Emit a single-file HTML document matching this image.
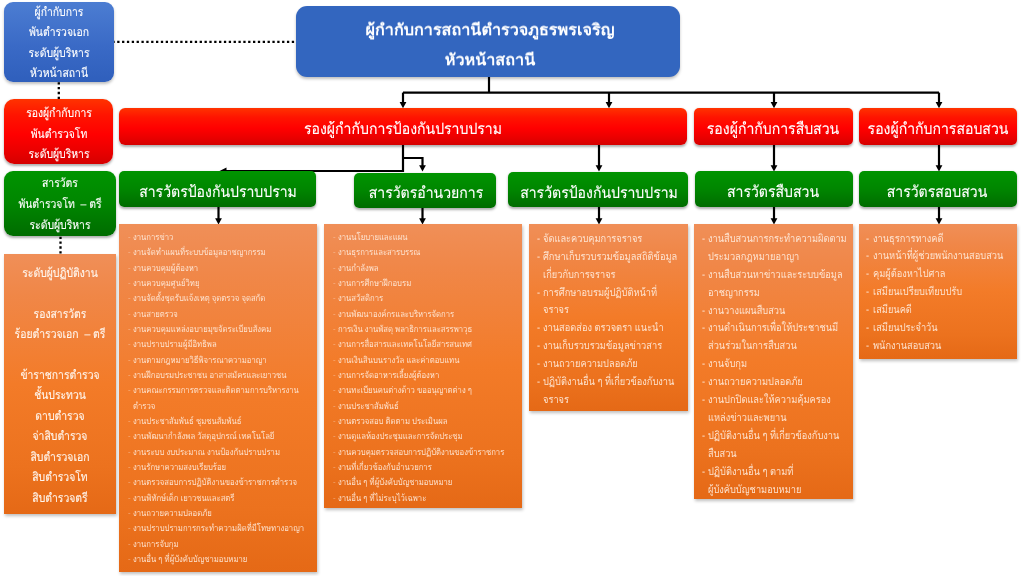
<!DOCTYPE html>
<html><head><meta charset="utf-8"><title>org chart</title><style>
html,body{margin:0;padding:0;background:#fff;}
body{width:1024px;height:576px;position:relative;overflow:hidden;font-family:"Liberation Sans",sans-serif;text-rendering:geometricPrecision;}
.b{position:absolute;box-sizing:border-box;overflow:hidden;}
.t{position:absolute;white-space:nowrap;will-change:transform;-webkit-text-stroke:0.1px currentColor;}
.blueA{background:linear-gradient(#4C7DD2,#3A6AC6 55%,#2F5FBC);box-shadow:0 2px 3px rgba(0,0,0,.25);}
.blueB{background:#3366BF;box-shadow:0 2px 3px rgba(0,0,0,.25);}
.red{background:linear-gradient(#FF3300,#FF1400 25%,#FF0000 55%,#EA0000 80%,#D50000);box-shadow:0 1.5px 2.5px rgba(0,0,0,.32);}
.green{background:linear-gradient(#009400,#008600 50%,#006C00);box-shadow:0 1.5px 2.5px rgba(0,0,0,.32);}
.orange{background:linear-gradient(#F08F58,#F08748 15%,#F37B28 50%,#EC721E 82%,#E56916);box-shadow:1px 2px 3px rgba(0,0,0,.25);}
svg{position:absolute;left:0;top:0;}
</style></head><body>
<svg width="1024" height="576" viewBox="0 0 1024 576"><g stroke="#000" stroke-width="2.2" fill="none"><path d="M489 76V92.6"/><path d="M403 92.6H939"/><path d="M403 92.6V103"/><path d="M609 92.6V103"/><path d="M774 92.6V103"/><path d="M939 92.6V103"/><path d="M403 144V171H224"/><path d="M403 158H422.5V166"/><path d="M599 144V166"/><path d="M774 144V166"/><path d="M939 144V166"/><path d="M218.5 206V219"/><path d="M422.5 206V219"/><path d="M599 206V219"/><path d="M774 206V219"/><path d="M939 206V219"/></g><g fill="#000"><path d="M399.6 102.1L406.4 102.1L403 108.3Z"/><path d="M605.6 102.1L612.4 102.1L609 108.3Z"/><path d="M770.6 102.1L777.4 102.1L774 108.3Z"/><path d="M935.6 102.1L942.4 102.1L939 108.3Z"/><path d="M419.1 165.3L425.9 165.3L422.5 171.5Z"/><path d="M595.6 165.3L602.4 165.3L599 171.5Z"/><path d="M770.6 165.3L777.4 165.3L774 171.5Z"/><path d="M935.6 165.3L942.4 165.3L939 171.5Z"/><path d="M215.1 218.3L221.9 218.3L218.5 224.5Z"/><path d="M419.1 218.3L425.9 218.3L422.5 224.5Z"/><path d="M595.6 218.3L602.4 218.3L599 224.5Z"/><path d="M770.6 218.3L777.4 218.3L774 224.5Z"/><path d="M935.6 218.3L942.4 218.3L939 224.5Z"/><path d="M219.5 171L226.5 167.5L226.5 174.5Z"/></g><g stroke="#000" stroke-width="2.3" stroke-linecap="square" stroke-dasharray="0 4.85" fill="none"><path d="M113.5 41.9H296"/><path d="M58.8 83.3V99"/><path d="M60.5 237.8V254"/></g></svg>
<div class="b blueA" style="left:4px;top:2px;width:109.50px;height:79.50px;border-radius:9px">
<div class="t" style="left:-95.50px;width:300px;text-align:center;top:4.10px;font-size:10.4px;line-height:15.6px;color:#fff;transform-origin:150px 11.40px;transform:scale(1.0,1.18)">ผู้กำกับการ</div>
<div class="t" style="left:-95.50px;width:300px;text-align:center;top:24.40px;font-size:10.4px;line-height:15.6px;color:#fff;transform-origin:150px 11.40px;transform:scale(1.0,1.18)">พันตำรวจเอก</div>
<div class="t" style="left:-95.50px;width:300px;text-align:center;top:44.70px;font-size:10.4px;line-height:15.6px;color:#fff;transform-origin:150px 11.40px;transform:scale(1.0,1.18)">ระดับผู้บริหาร</div>
<div class="t" style="left:-95.50px;width:300px;text-align:center;top:65.00px;font-size:10.4px;line-height:15.6px;color:#fff;transform-origin:150px 11.40px;transform:scale(1.0,1.18)">หัวหน้าสถานี</div>
</div>
<div class="b blueB" style="left:296px;top:6px;width:383.50px;height:71.00px;border-radius:11px">
<div class="t" style="left:44.00px;width:300px;text-align:center;top:11.74px;font-size:16.2px;line-height:24.3px;color:#fff;font-weight:bold;transform-origin:150px 17.76px;transform:scale(1.0,0.97);-webkit-text-stroke-width:0">ผู้กำกับการสถานีตำรวจภูธรพรเจริญ</div>
<div class="t" style="left:44.00px;width:300px;text-align:center;top:41.84px;font-size:16.2px;line-height:24.3px;color:#fff;font-weight:bold;transform-origin:150px 17.76px;transform:scale(1.0,0.97);-webkit-text-stroke-width:0">หัวหน้าสถานี</div>
</div>
<div class="b red" style="left:4.3px;top:99.3px;width:109.00px;height:65.20px;border-radius:10px">
<div class="t" style="left:-95.60px;width:300px;text-align:center;top:7.90px;font-size:10.4px;line-height:15.6px;color:#fff;transform-origin:150px 11.40px;transform:scale(1.0,1.18)">รองผู้กำกับการ</div>
<div class="t" style="left:-95.60px;width:300px;text-align:center;top:28.40px;font-size:10.4px;line-height:15.6px;color:#fff;transform-origin:150px 11.40px;transform:scale(1.0,1.18)">พันตำรวจโท</div>
<div class="t" style="left:-95.60px;width:300px;text-align:center;top:48.90px;font-size:10.4px;line-height:15.6px;color:#fff;transform-origin:150px 11.40px;transform:scale(1.0,1.18)">ระดับผู้บริหาร</div>
</div>
<div class="b red" style="left:119.4px;top:108.2px;width:567.60px;height:36.70px;border-radius:6px">
<div class="t" style="left:133.60px;width:300px;text-align:center;top:10.56px;font-size:13.9px;line-height:20.85px;color:#fff;transform-origin:150px 15.24px;transform:scale(1.011,1.12)">รองผู้กำกับการป้องกันปราบปราม</div>
</div>
<div class="b red" style="left:694px;top:108.2px;width:158.50px;height:36.70px;border-radius:5px">
<div class="t" style="left:-70.70px;width:300px;text-align:center;top:10.66px;font-size:13.9px;line-height:20.85px;color:#fff;transform-origin:150px 15.24px;transform:scale(1.011,1.12)">รองผู้กำกับการสืบสวน</div>
</div>
<div class="b red" style="left:858.8px;top:108px;width:158.20px;height:36.80px;border-radius:5px">
<div class="t" style="left:-70.90px;width:300px;text-align:center;top:10.86px;font-size:13.9px;line-height:20.85px;color:#fff;transform-origin:150px 15.24px;transform:scale(1.011,1.12)">รองผู้กำกับการสอบสวน</div>
</div>
<div class="b green" style="left:4.4px;top:170.6px;width:111.20px;height:65.00px;border-radius:9px">
<div class="t" style="left:-94.90px;width:300px;text-align:center;top:6.80px;font-size:10.4px;line-height:15.6px;color:#fff;transform-origin:150px 11.40px;transform:scale(1.0,1.18)">สารวัตร</div>
<div class="t" style="left:-94.90px;width:300px;text-align:center;top:27.40px;font-size:10.4px;line-height:15.6px;color:#fff;transform-origin:150px 11.40px;transform:scale(1.0,1.18)">พันตำรวจโท&nbsp; – ตรี</div>
<div class="t" style="left:-94.90px;width:300px;text-align:center;top:48.00px;font-size:10.4px;line-height:15.6px;color:#fff;transform-origin:150px 11.40px;transform:scale(1.0,1.18)">ระดับผู้บริหาร</div>
</div>
<div class="b green" style="left:119.2px;top:171.3px;width:196.40px;height:35.50px;border-radius:5px">
<div class="t" style="left:-51.70px;width:300px;text-align:center;top:10.76px;font-size:13.9px;line-height:20.85px;color:#fff;transform-origin:150px 15.24px;transform:scale(1.011,1.12)">สารวัตรป้องกันปราบปราม</div>
</div>
<div class="b green" style="left:354.1px;top:173.2px;width:142.30px;height:35.20px;border-radius:5px">
<div class="t" style="left:-78.60px;width:300px;text-align:center;top:9.46px;font-size:13.9px;line-height:20.85px;color:#fff;transform-origin:150px 15.24px;transform:scale(1.011,1.12)">สารวัตรอำนวยการ</div>
</div>
<div class="b green" style="left:508.2px;top:172.4px;width:179.70px;height:34.90px;border-radius:5px">
<div class="t" style="left:-59.60px;width:300px;text-align:center;top:10.16px;font-size:13.9px;line-height:20.85px;color:#fff;transform-origin:150px 15.24px;transform:scale(1.011,1.12)">สารวัตรป้องกันปราบปราม</div>
</div>
<div class="b green" style="left:694.5px;top:171.2px;width:158.00px;height:35.40px;border-radius:5px">
<div class="t" style="left:-71.20px;width:300px;text-align:center;top:10.66px;font-size:13.9px;line-height:20.85px;color:#fff;transform-origin:150px 15.24px;transform:scale(1.011,1.12)">สารวัตรสืบสวน</div>
</div>
<div class="b green" style="left:858.8px;top:171.1px;width:158.70px;height:35.60px;border-radius:5px">
<div class="t" style="left:-71.60px;width:300px;text-align:center;top:11.26px;font-size:13.9px;line-height:20.85px;color:#fff;transform-origin:150px 15.24px;transform:scale(1.011,1.12)">สารวัตรสอบสวน</div>
</div>
<div class="b orange" style="left:4.4px;top:254.2px;width:111.20px;height:260.20px;border-radius:0px">
<div class="t" style="left:-94.90px;width:300px;text-align:center;top:12.50px;font-size:10.4px;line-height:15.6px;color:#FFF6EE;transform-origin:150px 11.40px;transform:scale(1.0,1.18)">ระดับผู้ปฏิบัติงาน</div>
<div class="t" style="left:-94.90px;width:300px;text-align:center;top:53.40px;font-size:10.4px;line-height:15.6px;color:#FFF6EE;transform-origin:150px 11.40px;transform:scale(1.0,1.18)">รองสารวัตร</div>
<div class="t" style="left:-94.90px;width:300px;text-align:center;top:73.85px;font-size:10.4px;line-height:15.6px;color:#FFF6EE;transform-origin:150px 11.40px;transform:scale(1.0,1.18)">ร้อยตำรวจเอก&nbsp; – ตรี</div>
<div class="t" style="left:-94.90px;width:300px;text-align:center;top:114.75px;font-size:10.4px;line-height:15.6px;color:#FFF6EE;transform-origin:150px 11.40px;transform:scale(1.0,1.18)">ข้าราชการตำรวจ</div>
<div class="t" style="left:-94.90px;width:300px;text-align:center;top:135.20px;font-size:10.4px;line-height:15.6px;color:#FFF6EE;transform-origin:150px 11.40px;transform:scale(1.0,1.18)">ชั้นประทวน</div>
<div class="t" style="left:-94.90px;width:300px;text-align:center;top:155.65px;font-size:10.4px;line-height:15.6px;color:#FFF6EE;transform-origin:150px 11.40px;transform:scale(1.0,1.18)">ดาบตำรวจ</div>
<div class="t" style="left:-94.90px;width:300px;text-align:center;top:176.10px;font-size:10.4px;line-height:15.6px;color:#FFF6EE;transform-origin:150px 11.40px;transform:scale(1.0,1.18)">จ่าสิบตำรวจ</div>
<div class="t" style="left:-94.90px;width:300px;text-align:center;top:196.55px;font-size:10.4px;line-height:15.6px;color:#FFF6EE;transform-origin:150px 11.40px;transform:scale(1.0,1.18)">สิบตำรวจเอก</div>
<div class="t" style="left:-94.90px;width:300px;text-align:center;top:217.00px;font-size:10.4px;line-height:15.6px;color:#FFF6EE;transform-origin:150px 11.40px;transform:scale(1.0,1.18)">สิบตำรวจโท</div>
<div class="t" style="left:-94.90px;width:300px;text-align:center;top:237.45px;font-size:10.4px;line-height:15.6px;color:#FFF6EE;transform-origin:150px 11.40px;transform:scale(1.0,1.18)">สิบตำรวจตรี</div>
</div>
<div class="b orange" style="left:119.3px;top:224px;width:198.20px;height:347.50px;border-radius:0px">
<div class="t" style="left:8.90px;top:8.16px;font-size:7.7px;line-height:11.55px;color:rgba(255,238,225,0.9);transform-origin:0 8.44px;transform:scale(1.0,1.18);opacity:0.45;-webkit-text-stroke-width:0">-</div>
<div class="t" style="left:13.70px;top:8.16px;font-size:7.7px;line-height:11.55px;color:rgba(255,238,225,0.9);transform-origin:0 8.44px;transform:scale(1.0,1.18);-webkit-text-stroke-width:0">งานการข่าว</div>
<div class="t" style="left:8.90px;top:23.49px;font-size:7.7px;line-height:11.55px;color:rgba(255,238,225,0.9);transform-origin:0 8.44px;transform:scale(1.0,1.18);opacity:0.45;-webkit-text-stroke-width:0">-</div>
<div class="t" style="left:13.70px;top:23.49px;font-size:7.7px;line-height:11.55px;color:rgba(255,238,225,0.9);transform-origin:0 8.44px;transform:scale(1.0,1.18);-webkit-text-stroke-width:0">งานจัดทำแผนที่ระบบข้อมูลอาชญากรรม</div>
<div class="t" style="left:8.90px;top:38.82px;font-size:7.7px;line-height:11.55px;color:rgba(255,238,225,0.9);transform-origin:0 8.44px;transform:scale(1.0,1.18);opacity:0.45;-webkit-text-stroke-width:0">-</div>
<div class="t" style="left:13.70px;top:38.82px;font-size:7.7px;line-height:11.55px;color:rgba(255,238,225,0.9);transform-origin:0 8.44px;transform:scale(1.0,1.18);-webkit-text-stroke-width:0">งานควบคุมผู้ต้องหา</div>
<div class="t" style="left:8.90px;top:54.15px;font-size:7.7px;line-height:11.55px;color:rgba(255,238,225,0.9);transform-origin:0 8.44px;transform:scale(1.0,1.18);opacity:0.45;-webkit-text-stroke-width:0">-</div>
<div class="t" style="left:13.70px;top:54.15px;font-size:7.7px;line-height:11.55px;color:rgba(255,238,225,0.9);transform-origin:0 8.44px;transform:scale(1.0,1.18);-webkit-text-stroke-width:0">งานควบคุมศูนย์วิทยุ</div>
<div class="t" style="left:8.90px;top:69.48px;font-size:7.7px;line-height:11.55px;color:rgba(255,238,225,0.9);transform-origin:0 8.44px;transform:scale(1.0,1.18);opacity:0.45;-webkit-text-stroke-width:0">-</div>
<div class="t" style="left:13.70px;top:69.48px;font-size:7.7px;line-height:11.55px;color:rgba(255,238,225,0.9);transform-origin:0 8.44px;transform:scale(1.0,1.18);-webkit-text-stroke-width:0">งานจัดตั้งชุดรับแจ้งเหตุ จุดตรวจ จุดสกัด</div>
<div class="t" style="left:8.90px;top:84.81px;font-size:7.7px;line-height:11.55px;color:rgba(255,238,225,0.9);transform-origin:0 8.44px;transform:scale(1.0,1.18);opacity:0.45;-webkit-text-stroke-width:0">-</div>
<div class="t" style="left:13.70px;top:84.81px;font-size:7.7px;line-height:11.55px;color:rgba(255,238,225,0.9);transform-origin:0 8.44px;transform:scale(1.0,1.18);-webkit-text-stroke-width:0">งานสายตรวจ</div>
<div class="t" style="left:8.90px;top:100.14px;font-size:7.7px;line-height:11.55px;color:rgba(255,238,225,0.9);transform-origin:0 8.44px;transform:scale(1.0,1.18);opacity:0.45;-webkit-text-stroke-width:0">-</div>
<div class="t" style="left:13.70px;top:100.14px;font-size:7.7px;line-height:11.55px;color:rgba(255,238,225,0.9);transform-origin:0 8.44px;transform:scale(1.0,1.18);-webkit-text-stroke-width:0">งานควบคุมแหล่งอบายมุขจัดระเบียบสังคม</div>
<div class="t" style="left:8.90px;top:115.47px;font-size:7.7px;line-height:11.55px;color:rgba(255,238,225,0.9);transform-origin:0 8.44px;transform:scale(1.0,1.18);opacity:0.45;-webkit-text-stroke-width:0">-</div>
<div class="t" style="left:13.70px;top:115.47px;font-size:7.7px;line-height:11.55px;color:rgba(255,238,225,0.9);transform-origin:0 8.44px;transform:scale(1.0,1.18);-webkit-text-stroke-width:0">งานปราบปรามผู้มีอิทธิพล</div>
<div class="t" style="left:8.90px;top:130.80px;font-size:7.7px;line-height:11.55px;color:rgba(255,238,225,0.9);transform-origin:0 8.44px;transform:scale(1.0,1.18);opacity:0.45;-webkit-text-stroke-width:0">-</div>
<div class="t" style="left:13.70px;top:130.80px;font-size:7.7px;line-height:11.55px;color:rgba(255,238,225,0.9);transform-origin:0 8.44px;transform:scale(1.0,1.18);-webkit-text-stroke-width:0">งานตามกฎหมายวิธีพิจารณาความอาญา</div>
<div class="t" style="left:8.90px;top:146.13px;font-size:7.7px;line-height:11.55px;color:rgba(255,238,225,0.9);transform-origin:0 8.44px;transform:scale(1.0,1.18);opacity:0.45;-webkit-text-stroke-width:0">-</div>
<div class="t" style="left:13.70px;top:146.13px;font-size:7.7px;line-height:11.55px;color:rgba(255,238,225,0.9);transform-origin:0 8.44px;transform:scale(1.0,1.18);-webkit-text-stroke-width:0">งานฝึกอบรมประชาชน อาสาสมัครและเยาวชน</div>
<div class="t" style="left:8.90px;top:161.46px;font-size:7.7px;line-height:11.55px;color:rgba(255,238,225,0.9);transform-origin:0 8.44px;transform:scale(1.0,1.18);opacity:0.45;-webkit-text-stroke-width:0">-</div>
<div class="t" style="left:13.70px;top:161.46px;font-size:7.7px;line-height:11.55px;color:rgba(255,238,225,0.9);transform-origin:0 8.44px;transform:scale(1.0,1.18);-webkit-text-stroke-width:0">งานคณะกรรมการตรวจและติดตามการบริหารงาน</div>
<div class="t" style="left:13.70px;top:176.79px;font-size:7.7px;line-height:11.55px;color:rgba(255,238,225,0.9);transform-origin:0 8.44px;transform:scale(1.0,1.18);-webkit-text-stroke-width:0">ตำรวจ</div>
<div class="t" style="left:8.90px;top:192.12px;font-size:7.7px;line-height:11.55px;color:rgba(255,238,225,0.9);transform-origin:0 8.44px;transform:scale(1.0,1.18);opacity:0.45;-webkit-text-stroke-width:0">-</div>
<div class="t" style="left:13.70px;top:192.12px;font-size:7.7px;line-height:11.55px;color:rgba(255,238,225,0.9);transform-origin:0 8.44px;transform:scale(1.0,1.18);-webkit-text-stroke-width:0">งานประชาสัมพันธ์ ชุมชนสัมพันธ์</div>
<div class="t" style="left:8.90px;top:207.45px;font-size:7.7px;line-height:11.55px;color:rgba(255,238,225,0.9);transform-origin:0 8.44px;transform:scale(1.0,1.18);opacity:0.45;-webkit-text-stroke-width:0">-</div>
<div class="t" style="left:13.70px;top:207.45px;font-size:7.7px;line-height:11.55px;color:rgba(255,238,225,0.9);transform-origin:0 8.44px;transform:scale(1.0,1.18);-webkit-text-stroke-width:0">งานพัฒนากำลังพล วัสดุอุปกรณ์ เทคโนโลยี</div>
<div class="t" style="left:8.90px;top:222.78px;font-size:7.7px;line-height:11.55px;color:rgba(255,238,225,0.9);transform-origin:0 8.44px;transform:scale(1.0,1.18);opacity:0.45;-webkit-text-stroke-width:0">-</div>
<div class="t" style="left:13.70px;top:222.78px;font-size:7.7px;line-height:11.55px;color:rgba(255,238,225,0.9);transform-origin:0 8.44px;transform:scale(1.0,1.18);-webkit-text-stroke-width:0">งานระบบ งบประมาณ งานป้องกันปราบปราม</div>
<div class="t" style="left:8.90px;top:238.11px;font-size:7.7px;line-height:11.55px;color:rgba(255,238,225,0.9);transform-origin:0 8.44px;transform:scale(1.0,1.18);opacity:0.45;-webkit-text-stroke-width:0">-</div>
<div class="t" style="left:13.70px;top:238.11px;font-size:7.7px;line-height:11.55px;color:rgba(255,238,225,0.9);transform-origin:0 8.44px;transform:scale(1.0,1.18);-webkit-text-stroke-width:0">งานรักษาความสงบเรียบร้อย</div>
<div class="t" style="left:8.90px;top:253.44px;font-size:7.7px;line-height:11.55px;color:rgba(255,238,225,0.9);transform-origin:0 8.44px;transform:scale(1.0,1.18);opacity:0.45;-webkit-text-stroke-width:0">-</div>
<div class="t" style="left:13.70px;top:253.44px;font-size:7.7px;line-height:11.55px;color:rgba(255,238,225,0.9);transform-origin:0 8.44px;transform:scale(1.0,1.18);-webkit-text-stroke-width:0">งานตรวจสอบการปฏิบัติงานของข้าราชการตำรวจ</div>
<div class="t" style="left:8.90px;top:268.77px;font-size:7.7px;line-height:11.55px;color:rgba(255,238,225,0.9);transform-origin:0 8.44px;transform:scale(1.0,1.18);opacity:0.45;-webkit-text-stroke-width:0">-</div>
<div class="t" style="left:13.70px;top:268.77px;font-size:7.7px;line-height:11.55px;color:rgba(255,238,225,0.9);transform-origin:0 8.44px;transform:scale(1.0,1.18);-webkit-text-stroke-width:0">งานพิทักษ์เด็ก เยาวชนและสตรี</div>
<div class="t" style="left:8.90px;top:284.10px;font-size:7.7px;line-height:11.55px;color:rgba(255,238,225,0.9);transform-origin:0 8.44px;transform:scale(1.0,1.18);opacity:0.45;-webkit-text-stroke-width:0">-</div>
<div class="t" style="left:13.70px;top:284.10px;font-size:7.7px;line-height:11.55px;color:rgba(255,238,225,0.9);transform-origin:0 8.44px;transform:scale(1.0,1.18);-webkit-text-stroke-width:0">งานถวายความปลอดภัย</div>
<div class="t" style="left:8.90px;top:299.43px;font-size:7.7px;line-height:11.55px;color:rgba(255,238,225,0.9);transform-origin:0 8.44px;transform:scale(1.0,1.18);opacity:0.45;-webkit-text-stroke-width:0">-</div>
<div class="t" style="left:13.70px;top:299.43px;font-size:7.7px;line-height:11.55px;color:rgba(255,238,225,0.9);transform-origin:0 8.44px;transform:scale(1.0,1.18);-webkit-text-stroke-width:0">งานปราบปรามการกระทำความผิดที่มีโทษทางอาญา</div>
<div class="t" style="left:8.90px;top:314.76px;font-size:7.7px;line-height:11.55px;color:rgba(255,238,225,0.9);transform-origin:0 8.44px;transform:scale(1.0,1.18);opacity:0.45;-webkit-text-stroke-width:0">-</div>
<div class="t" style="left:13.70px;top:314.76px;font-size:7.7px;line-height:11.55px;color:rgba(255,238,225,0.9);transform-origin:0 8.44px;transform:scale(1.0,1.18);-webkit-text-stroke-width:0">งานการจับกุม</div>
<div class="t" style="left:8.90px;top:330.09px;font-size:7.7px;line-height:11.55px;color:rgba(255,238,225,0.9);transform-origin:0 8.44px;transform:scale(1.0,1.18);opacity:0.45;-webkit-text-stroke-width:0">-</div>
<div class="t" style="left:13.70px;top:330.09px;font-size:7.7px;line-height:11.55px;color:rgba(255,238,225,0.9);transform-origin:0 8.44px;transform:scale(1.0,1.18);-webkit-text-stroke-width:0">งานอื่น ๆ ที่ผู้บังคับบัญชามอบหมาย</div>
</div>
<div class="b orange" style="left:324.2px;top:224px;width:197.40px;height:283.50px;border-radius:0px">
<div class="t" style="left:9.00px;top:8.16px;font-size:7.7px;line-height:11.55px;color:rgba(255,238,225,0.9);transform-origin:0 8.44px;transform:scale(1.0,1.18);opacity:0.45;-webkit-text-stroke-width:0">-</div>
<div class="t" style="left:13.80px;top:8.16px;font-size:7.7px;line-height:11.55px;color:rgba(255,238,225,0.9);transform-origin:0 8.44px;transform:scale(1.0,1.18);-webkit-text-stroke-width:0">งานนโยบายและแผน</div>
<div class="t" style="left:9.00px;top:23.49px;font-size:7.7px;line-height:11.55px;color:rgba(255,238,225,0.9);transform-origin:0 8.44px;transform:scale(1.0,1.18);opacity:0.45;-webkit-text-stroke-width:0">-</div>
<div class="t" style="left:13.80px;top:23.49px;font-size:7.7px;line-height:11.55px;color:rgba(255,238,225,0.9);transform-origin:0 8.44px;transform:scale(1.0,1.18);-webkit-text-stroke-width:0">งานธุรการและสารบรรณ</div>
<div class="t" style="left:9.00px;top:38.82px;font-size:7.7px;line-height:11.55px;color:rgba(255,238,225,0.9);transform-origin:0 8.44px;transform:scale(1.0,1.18);opacity:0.45;-webkit-text-stroke-width:0">-</div>
<div class="t" style="left:13.80px;top:38.82px;font-size:7.7px;line-height:11.55px;color:rgba(255,238,225,0.9);transform-origin:0 8.44px;transform:scale(1.0,1.18);-webkit-text-stroke-width:0">งานกำลังพล</div>
<div class="t" style="left:9.00px;top:54.15px;font-size:7.7px;line-height:11.55px;color:rgba(255,238,225,0.9);transform-origin:0 8.44px;transform:scale(1.0,1.18);opacity:0.45;-webkit-text-stroke-width:0">-</div>
<div class="t" style="left:13.80px;top:54.15px;font-size:7.7px;line-height:11.55px;color:rgba(255,238,225,0.9);transform-origin:0 8.44px;transform:scale(1.0,1.18);-webkit-text-stroke-width:0">งานการศึกษาฝึกอบรม</div>
<div class="t" style="left:9.00px;top:69.48px;font-size:7.7px;line-height:11.55px;color:rgba(255,238,225,0.9);transform-origin:0 8.44px;transform:scale(1.0,1.18);opacity:0.45;-webkit-text-stroke-width:0">-</div>
<div class="t" style="left:13.80px;top:69.48px;font-size:7.7px;line-height:11.55px;color:rgba(255,238,225,0.9);transform-origin:0 8.44px;transform:scale(1.0,1.18);-webkit-text-stroke-width:0">งานสวัสดิการ</div>
<div class="t" style="left:9.00px;top:84.81px;font-size:7.7px;line-height:11.55px;color:rgba(255,238,225,0.9);transform-origin:0 8.44px;transform:scale(1.0,1.18);opacity:0.45;-webkit-text-stroke-width:0">-</div>
<div class="t" style="left:13.80px;top:84.81px;font-size:7.7px;line-height:11.55px;color:rgba(255,238,225,0.9);transform-origin:0 8.44px;transform:scale(1.0,1.18);-webkit-text-stroke-width:0">งานพัฒนาองค์กรและบริหารจัดการ</div>
<div class="t" style="left:9.00px;top:100.14px;font-size:7.7px;line-height:11.55px;color:rgba(255,238,225,0.9);transform-origin:0 8.44px;transform:scale(1.0,1.18);opacity:0.45;-webkit-text-stroke-width:0">-</div>
<div class="t" style="left:13.80px;top:100.14px;font-size:7.7px;line-height:11.55px;color:rgba(255,238,225,0.9);transform-origin:0 8.44px;transform:scale(1.0,1.18);-webkit-text-stroke-width:0">การเงิน งานพัสดุ พลาธิการและสรรพาวุธ</div>
<div class="t" style="left:9.00px;top:115.47px;font-size:7.7px;line-height:11.55px;color:rgba(255,238,225,0.9);transform-origin:0 8.44px;transform:scale(1.0,1.18);opacity:0.45;-webkit-text-stroke-width:0">-</div>
<div class="t" style="left:13.80px;top:115.47px;font-size:7.7px;line-height:11.55px;color:rgba(255,238,225,0.9);transform-origin:0 8.44px;transform:scale(1.0,1.18);-webkit-text-stroke-width:0">งานการสื่อสารและเทคโนโลยีสารสนเทศ</div>
<div class="t" style="left:9.00px;top:130.80px;font-size:7.7px;line-height:11.55px;color:rgba(255,238,225,0.9);transform-origin:0 8.44px;transform:scale(1.0,1.18);opacity:0.45;-webkit-text-stroke-width:0">-</div>
<div class="t" style="left:13.80px;top:130.80px;font-size:7.7px;line-height:11.55px;color:rgba(255,238,225,0.9);transform-origin:0 8.44px;transform:scale(1.0,1.18);-webkit-text-stroke-width:0">งานเงินสินบนรางวัล และค่าตอบแทน</div>
<div class="t" style="left:9.00px;top:146.13px;font-size:7.7px;line-height:11.55px;color:rgba(255,238,225,0.9);transform-origin:0 8.44px;transform:scale(1.0,1.18);opacity:0.45;-webkit-text-stroke-width:0">-</div>
<div class="t" style="left:13.80px;top:146.13px;font-size:7.7px;line-height:11.55px;color:rgba(255,238,225,0.9);transform-origin:0 8.44px;transform:scale(1.0,1.18);-webkit-text-stroke-width:0">งานการจัดอาหารเลี้ยงผู้ต้องหา</div>
<div class="t" style="left:9.00px;top:161.46px;font-size:7.7px;line-height:11.55px;color:rgba(255,238,225,0.9);transform-origin:0 8.44px;transform:scale(1.0,1.18);opacity:0.45;-webkit-text-stroke-width:0">-</div>
<div class="t" style="left:13.80px;top:161.46px;font-size:7.7px;line-height:11.55px;color:rgba(255,238,225,0.9);transform-origin:0 8.44px;transform:scale(1.0,1.18);-webkit-text-stroke-width:0">งานทะเบียนคนต่างด้าว ขออนุญาตต่าง ๆ</div>
<div class="t" style="left:9.00px;top:176.79px;font-size:7.7px;line-height:11.55px;color:rgba(255,238,225,0.9);transform-origin:0 8.44px;transform:scale(1.0,1.18);opacity:0.45;-webkit-text-stroke-width:0">-</div>
<div class="t" style="left:13.80px;top:176.79px;font-size:7.7px;line-height:11.55px;color:rgba(255,238,225,0.9);transform-origin:0 8.44px;transform:scale(1.0,1.18);-webkit-text-stroke-width:0">งานประชาสัมพันธ์</div>
<div class="t" style="left:9.00px;top:192.12px;font-size:7.7px;line-height:11.55px;color:rgba(255,238,225,0.9);transform-origin:0 8.44px;transform:scale(1.0,1.18);opacity:0.45;-webkit-text-stroke-width:0">-</div>
<div class="t" style="left:13.80px;top:192.12px;font-size:7.7px;line-height:11.55px;color:rgba(255,238,225,0.9);transform-origin:0 8.44px;transform:scale(1.0,1.18);-webkit-text-stroke-width:0">งานตรวจสอบ ติดตาม ประเมินผล</div>
<div class="t" style="left:9.00px;top:207.45px;font-size:7.7px;line-height:11.55px;color:rgba(255,238,225,0.9);transform-origin:0 8.44px;transform:scale(1.0,1.18);opacity:0.45;-webkit-text-stroke-width:0">-</div>
<div class="t" style="left:13.80px;top:207.45px;font-size:7.7px;line-height:11.55px;color:rgba(255,238,225,0.9);transform-origin:0 8.44px;transform:scale(1.0,1.18);-webkit-text-stroke-width:0">งานดูแลห้องประชุมและการจัดประชุม</div>
<div class="t" style="left:9.00px;top:222.78px;font-size:7.7px;line-height:11.55px;color:rgba(255,238,225,0.9);transform-origin:0 8.44px;transform:scale(1.0,1.18);opacity:0.45;-webkit-text-stroke-width:0">-</div>
<div class="t" style="left:13.80px;top:222.78px;font-size:7.7px;line-height:11.55px;color:rgba(255,238,225,0.9);transform-origin:0 8.44px;transform:scale(1.0,1.18);-webkit-text-stroke-width:0">งานควบคุมตรวจสอบการปฏิบัติงานของข้าราชการ</div>
<div class="t" style="left:9.00px;top:238.11px;font-size:7.7px;line-height:11.55px;color:rgba(255,238,225,0.9);transform-origin:0 8.44px;transform:scale(1.0,1.18);opacity:0.45;-webkit-text-stroke-width:0">-</div>
<div class="t" style="left:13.80px;top:238.11px;font-size:7.7px;line-height:11.55px;color:rgba(255,238,225,0.9);transform-origin:0 8.44px;transform:scale(1.0,1.18);-webkit-text-stroke-width:0">งานที่เกี่ยวข้องกับอำนวยการ</div>
<div class="t" style="left:9.00px;top:253.44px;font-size:7.7px;line-height:11.55px;color:rgba(255,238,225,0.9);transform-origin:0 8.44px;transform:scale(1.0,1.18);opacity:0.45;-webkit-text-stroke-width:0">-</div>
<div class="t" style="left:13.80px;top:253.44px;font-size:7.7px;line-height:11.55px;color:rgba(255,238,225,0.9);transform-origin:0 8.44px;transform:scale(1.0,1.18);-webkit-text-stroke-width:0">งานอื่น ๆ ที่ผู้บังคับบัญชามอบหมาย</div>
<div class="t" style="left:9.00px;top:268.77px;font-size:7.7px;line-height:11.55px;color:rgba(255,238,225,0.9);transform-origin:0 8.44px;transform:scale(1.0,1.18);opacity:0.45;-webkit-text-stroke-width:0">-</div>
<div class="t" style="left:13.80px;top:268.77px;font-size:7.7px;line-height:11.55px;color:rgba(255,238,225,0.9);transform-origin:0 8.44px;transform:scale(1.0,1.18);-webkit-text-stroke-width:0">งานอื่น ๆ ที่ไม่ระบุไว้เฉพาะ</div>
</div>
<div class="b orange" style="left:528.7px;top:224px;width:158.90px;height:186.90px;border-radius:0px">
<div class="t" style="left:8.30px;top:8.75px;font-size:9.25px;line-height:13.88px;color:rgba(255,238,225,0.9);transform-origin:0 10.15px;transform:scale(1.0,1.18);opacity:1.0;-webkit-text-stroke-width:0">-</div>
<div class="t" style="left:14.80px;top:8.75px;font-size:9.25px;line-height:13.88px;color:rgba(255,238,225,0.9);transform-origin:0 10.15px;transform:scale(1.0,1.18);-webkit-text-stroke-width:0">จัดและควบคุมการจราจร</div>
<div class="t" style="left:8.30px;top:26.68px;font-size:9.25px;line-height:13.88px;color:rgba(255,238,225,0.9);transform-origin:0 10.15px;transform:scale(1.0,1.18);opacity:1.0;-webkit-text-stroke-width:0">-</div>
<div class="t" style="left:14.80px;top:26.68px;font-size:9.25px;line-height:13.88px;color:rgba(255,238,225,0.9);transform-origin:0 10.15px;transform:scale(1.0,1.18);-webkit-text-stroke-width:0">ศึกษาเก็บรวบรวมข้อมูลสถิติข้อมูล</div>
<div class="t" style="left:14.80px;top:44.61px;font-size:9.25px;line-height:13.88px;color:rgba(255,238,225,0.9);transform-origin:0 10.15px;transform:scale(1.0,1.18);-webkit-text-stroke-width:0">เกี่ยวกับการจราจร</div>
<div class="t" style="left:8.30px;top:62.54px;font-size:9.25px;line-height:13.88px;color:rgba(255,238,225,0.9);transform-origin:0 10.15px;transform:scale(1.0,1.18);opacity:1.0;-webkit-text-stroke-width:0">-</div>
<div class="t" style="left:14.80px;top:62.54px;font-size:9.25px;line-height:13.88px;color:rgba(255,238,225,0.9);transform-origin:0 10.15px;transform:scale(1.0,1.18);-webkit-text-stroke-width:0">การศึกษาอบรมผู้ปฏิบัติหน้าที่</div>
<div class="t" style="left:14.80px;top:80.47px;font-size:9.25px;line-height:13.88px;color:rgba(255,238,225,0.9);transform-origin:0 10.15px;transform:scale(1.0,1.18);-webkit-text-stroke-width:0">จราจร</div>
<div class="t" style="left:8.30px;top:98.40px;font-size:9.25px;line-height:13.88px;color:rgba(255,238,225,0.9);transform-origin:0 10.15px;transform:scale(1.0,1.18);opacity:1.0;-webkit-text-stroke-width:0">-</div>
<div class="t" style="left:14.80px;top:98.40px;font-size:9.25px;line-height:13.88px;color:rgba(255,238,225,0.9);transform-origin:0 10.15px;transform:scale(1.0,1.18);-webkit-text-stroke-width:0">งานสอดส่อง ตรวจตรา แนะนำ</div>
<div class="t" style="left:8.30px;top:116.33px;font-size:9.25px;line-height:13.88px;color:rgba(255,238,225,0.9);transform-origin:0 10.15px;transform:scale(1.0,1.18);opacity:1.0;-webkit-text-stroke-width:0">-</div>
<div class="t" style="left:14.80px;top:116.33px;font-size:9.25px;line-height:13.88px;color:rgba(255,238,225,0.9);transform-origin:0 10.15px;transform:scale(1.0,1.18);-webkit-text-stroke-width:0">งานเก็บรวบรวมข้อมูลข่าวสาร</div>
<div class="t" style="left:8.30px;top:134.26px;font-size:9.25px;line-height:13.88px;color:rgba(255,238,225,0.9);transform-origin:0 10.15px;transform:scale(1.0,1.18);opacity:1.0;-webkit-text-stroke-width:0">-</div>
<div class="t" style="left:14.80px;top:134.26px;font-size:9.25px;line-height:13.88px;color:rgba(255,238,225,0.9);transform-origin:0 10.15px;transform:scale(1.0,1.18);-webkit-text-stroke-width:0">งานถวายความปลอดภัย</div>
<div class="t" style="left:8.30px;top:152.19px;font-size:9.25px;line-height:13.88px;color:rgba(255,238,225,0.9);transform-origin:0 10.15px;transform:scale(1.0,1.18);opacity:1.0;-webkit-text-stroke-width:0">-</div>
<div class="t" style="left:14.80px;top:152.19px;font-size:9.25px;line-height:13.88px;color:rgba(255,238,225,0.9);transform-origin:0 10.15px;transform:scale(1.0,1.18);-webkit-text-stroke-width:0">ปฏิบัติงานอื่น ๆ ที่เกี่ยวข้องกับงาน</div>
<div class="t" style="left:14.80px;top:170.12px;font-size:9.25px;line-height:13.88px;color:rgba(255,238,225,0.9);transform-origin:0 10.15px;transform:scale(1.0,1.18);-webkit-text-stroke-width:0">จราจร</div>
</div>
<div class="b orange" style="left:693.8px;top:223.8px;width:158.80px;height:275.40px;border-radius:0px">
<div class="t" style="left:8.70px;top:9.15px;font-size:9.25px;line-height:13.88px;color:rgba(255,238,225,0.9);transform-origin:0 10.15px;transform:scale(1.0,1.18);opacity:1.0;-webkit-text-stroke-width:0">-</div>
<div class="t" style="left:14.20px;top:9.15px;font-size:9.25px;line-height:13.88px;color:rgba(255,238,225,0.9);transform-origin:0 10.15px;transform:scale(1.0,1.18);-webkit-text-stroke-width:0">งานสืบสวนการกระทำความผิดตาม</div>
<div class="t" style="left:14.20px;top:27.05px;font-size:9.25px;line-height:13.88px;color:rgba(255,238,225,0.9);transform-origin:0 10.15px;transform:scale(1.0,1.18);-webkit-text-stroke-width:0">ประมวลกฎหมายอาญา</div>
<div class="t" style="left:8.70px;top:44.95px;font-size:9.25px;line-height:13.88px;color:rgba(255,238,225,0.9);transform-origin:0 10.15px;transform:scale(1.0,1.18);opacity:1.0;-webkit-text-stroke-width:0">-</div>
<div class="t" style="left:14.20px;top:44.95px;font-size:9.25px;line-height:13.88px;color:rgba(255,238,225,0.9);transform-origin:0 10.15px;transform:scale(1.0,1.18);-webkit-text-stroke-width:0">งานสืบสวนหาข่าวและระบบข้อมูล</div>
<div class="t" style="left:14.20px;top:62.85px;font-size:9.25px;line-height:13.88px;color:rgba(255,238,225,0.9);transform-origin:0 10.15px;transform:scale(1.0,1.18);-webkit-text-stroke-width:0">อาชญากรรม</div>
<div class="t" style="left:8.70px;top:80.75px;font-size:9.25px;line-height:13.88px;color:rgba(255,238,225,0.9);transform-origin:0 10.15px;transform:scale(1.0,1.18);opacity:1.0;-webkit-text-stroke-width:0">-</div>
<div class="t" style="left:14.20px;top:80.75px;font-size:9.25px;line-height:13.88px;color:rgba(255,238,225,0.9);transform-origin:0 10.15px;transform:scale(1.0,1.18);-webkit-text-stroke-width:0">งานวางแผนสืบสวน</div>
<div class="t" style="left:8.70px;top:98.65px;font-size:9.25px;line-height:13.88px;color:rgba(255,238,225,0.9);transform-origin:0 10.15px;transform:scale(1.0,1.18);opacity:1.0;-webkit-text-stroke-width:0">-</div>
<div class="t" style="left:14.20px;top:98.65px;font-size:9.25px;line-height:13.88px;color:rgba(255,238,225,0.9);transform-origin:0 10.15px;transform:scale(1.0,1.18);-webkit-text-stroke-width:0">งานดำเนินการเพื่อให้ประชาชนมี</div>
<div class="t" style="left:14.20px;top:116.55px;font-size:9.25px;line-height:13.88px;color:rgba(255,238,225,0.9);transform-origin:0 10.15px;transform:scale(1.0,1.18);-webkit-text-stroke-width:0">ส่วนร่วมในการสืบสวน</div>
<div class="t" style="left:8.70px;top:134.45px;font-size:9.25px;line-height:13.88px;color:rgba(255,238,225,0.9);transform-origin:0 10.15px;transform:scale(1.0,1.18);opacity:1.0;-webkit-text-stroke-width:0">-</div>
<div class="t" style="left:14.20px;top:134.45px;font-size:9.25px;line-height:13.88px;color:rgba(255,238,225,0.9);transform-origin:0 10.15px;transform:scale(1.0,1.18);-webkit-text-stroke-width:0">งานจับกุม</div>
<div class="t" style="left:8.70px;top:152.35px;font-size:9.25px;line-height:13.88px;color:rgba(255,238,225,0.9);transform-origin:0 10.15px;transform:scale(1.0,1.18);opacity:1.0;-webkit-text-stroke-width:0">-</div>
<div class="t" style="left:14.20px;top:152.35px;font-size:9.25px;line-height:13.88px;color:rgba(255,238,225,0.9);transform-origin:0 10.15px;transform:scale(1.0,1.18);-webkit-text-stroke-width:0">งานถวายความปลอดภัย</div>
<div class="t" style="left:8.70px;top:170.25px;font-size:9.25px;line-height:13.88px;color:rgba(255,238,225,0.9);transform-origin:0 10.15px;transform:scale(1.0,1.18);opacity:1.0;-webkit-text-stroke-width:0">-</div>
<div class="t" style="left:14.20px;top:170.25px;font-size:9.25px;line-height:13.88px;color:rgba(255,238,225,0.9);transform-origin:0 10.15px;transform:scale(1.0,1.18);-webkit-text-stroke-width:0">งานปกปิดและให้ความคุ้มครอง</div>
<div class="t" style="left:14.20px;top:188.15px;font-size:9.25px;line-height:13.88px;color:rgba(255,238,225,0.9);transform-origin:0 10.15px;transform:scale(1.0,1.18);-webkit-text-stroke-width:0">แหล่งข่าวและพยาน</div>
<div class="t" style="left:8.70px;top:206.05px;font-size:9.25px;line-height:13.88px;color:rgba(255,238,225,0.9);transform-origin:0 10.15px;transform:scale(1.0,1.18);opacity:1.0;-webkit-text-stroke-width:0">-</div>
<div class="t" style="left:14.20px;top:206.05px;font-size:9.25px;line-height:13.88px;color:rgba(255,238,225,0.9);transform-origin:0 10.15px;transform:scale(1.0,1.18);-webkit-text-stroke-width:0">ปฏิบัติงานอื่น ๆ ที่เกี่ยวข้องกับงาน</div>
<div class="t" style="left:14.20px;top:223.95px;font-size:9.25px;line-height:13.88px;color:rgba(255,238,225,0.9);transform-origin:0 10.15px;transform:scale(1.0,1.18);-webkit-text-stroke-width:0">สืบสวน</div>
<div class="t" style="left:8.70px;top:241.85px;font-size:9.25px;line-height:13.88px;color:rgba(255,238,225,0.9);transform-origin:0 10.15px;transform:scale(1.0,1.18);opacity:1.0;-webkit-text-stroke-width:0">-</div>
<div class="t" style="left:14.20px;top:241.85px;font-size:9.25px;line-height:13.88px;color:rgba(255,238,225,0.9);transform-origin:0 10.15px;transform:scale(1.0,1.18);-webkit-text-stroke-width:0">ปฏิบัติงานอื่น ๆ ตามที่</div>
<div class="t" style="left:14.20px;top:259.75px;font-size:9.25px;line-height:13.88px;color:rgba(255,238,225,0.9);transform-origin:0 10.15px;transform:scale(1.0,1.18);-webkit-text-stroke-width:0">ผู้บังคับบัญชามอบหมาย</div>
</div>
<div class="b orange" style="left:858.8px;top:223.7px;width:158.70px;height:135.80px;border-radius:0px">
<div class="t" style="left:7.70px;top:8.85px;font-size:9.25px;line-height:13.88px;color:rgba(255,238,225,0.9);transform-origin:0 10.15px;transform:scale(1.0,1.18);opacity:1.0;-webkit-text-stroke-width:0">-</div>
<div class="t" style="left:14.20px;top:8.85px;font-size:9.25px;line-height:13.88px;color:rgba(255,238,225,0.9);transform-origin:0 10.15px;transform:scale(1.0,1.18);-webkit-text-stroke-width:0">งานธุรการทางคดี</div>
<div class="t" style="left:7.70px;top:26.80px;font-size:9.25px;line-height:13.88px;color:rgba(255,238,225,0.9);transform-origin:0 10.15px;transform:scale(1.0,1.18);opacity:1.0;-webkit-text-stroke-width:0">-</div>
<div class="t" style="left:14.20px;top:26.80px;font-size:9.25px;line-height:13.88px;color:rgba(255,238,225,0.9);transform-origin:0 10.15px;transform:scale(1.0,1.18);-webkit-text-stroke-width:0">งานหน้าที่ผู้ช่วยพนักงานสอบสวน</div>
<div class="t" style="left:7.70px;top:44.75px;font-size:9.25px;line-height:13.88px;color:rgba(255,238,225,0.9);transform-origin:0 10.15px;transform:scale(1.0,1.18);opacity:1.0;-webkit-text-stroke-width:0">-</div>
<div class="t" style="left:14.20px;top:44.75px;font-size:9.25px;line-height:13.88px;color:rgba(255,238,225,0.9);transform-origin:0 10.15px;transform:scale(1.0,1.18);-webkit-text-stroke-width:0">คุมผู้ต้องหาไปศาล</div>
<div class="t" style="left:7.70px;top:62.70px;font-size:9.25px;line-height:13.88px;color:rgba(255,238,225,0.9);transform-origin:0 10.15px;transform:scale(1.0,1.18);opacity:1.0;-webkit-text-stroke-width:0">-</div>
<div class="t" style="left:14.20px;top:62.70px;font-size:9.25px;line-height:13.88px;color:rgba(255,238,225,0.9);transform-origin:0 10.15px;transform:scale(1.0,1.18);-webkit-text-stroke-width:0">เสมียนเปรียบเทียบปรับ</div>
<div class="t" style="left:7.70px;top:80.65px;font-size:9.25px;line-height:13.88px;color:rgba(255,238,225,0.9);transform-origin:0 10.15px;transform:scale(1.0,1.18);opacity:1.0;-webkit-text-stroke-width:0">-</div>
<div class="t" style="left:14.20px;top:80.65px;font-size:9.25px;line-height:13.88px;color:rgba(255,238,225,0.9);transform-origin:0 10.15px;transform:scale(1.0,1.18);-webkit-text-stroke-width:0">เสมียนคดี</div>
<div class="t" style="left:7.70px;top:98.60px;font-size:9.25px;line-height:13.88px;color:rgba(255,238,225,0.9);transform-origin:0 10.15px;transform:scale(1.0,1.18);opacity:1.0;-webkit-text-stroke-width:0">-</div>
<div class="t" style="left:14.20px;top:98.60px;font-size:9.25px;line-height:13.88px;color:rgba(255,238,225,0.9);transform-origin:0 10.15px;transform:scale(1.0,1.18);-webkit-text-stroke-width:0">เสมียนประจำวัน</div>
<div class="t" style="left:7.70px;top:116.55px;font-size:9.25px;line-height:13.88px;color:rgba(255,238,225,0.9);transform-origin:0 10.15px;transform:scale(1.0,1.18);opacity:1.0;-webkit-text-stroke-width:0">-</div>
<div class="t" style="left:14.20px;top:116.55px;font-size:9.25px;line-height:13.88px;color:rgba(255,238,225,0.9);transform-origin:0 10.15px;transform:scale(1.0,1.18);-webkit-text-stroke-width:0">พนักงานสอบสวน</div>
</div>
</body></html>
